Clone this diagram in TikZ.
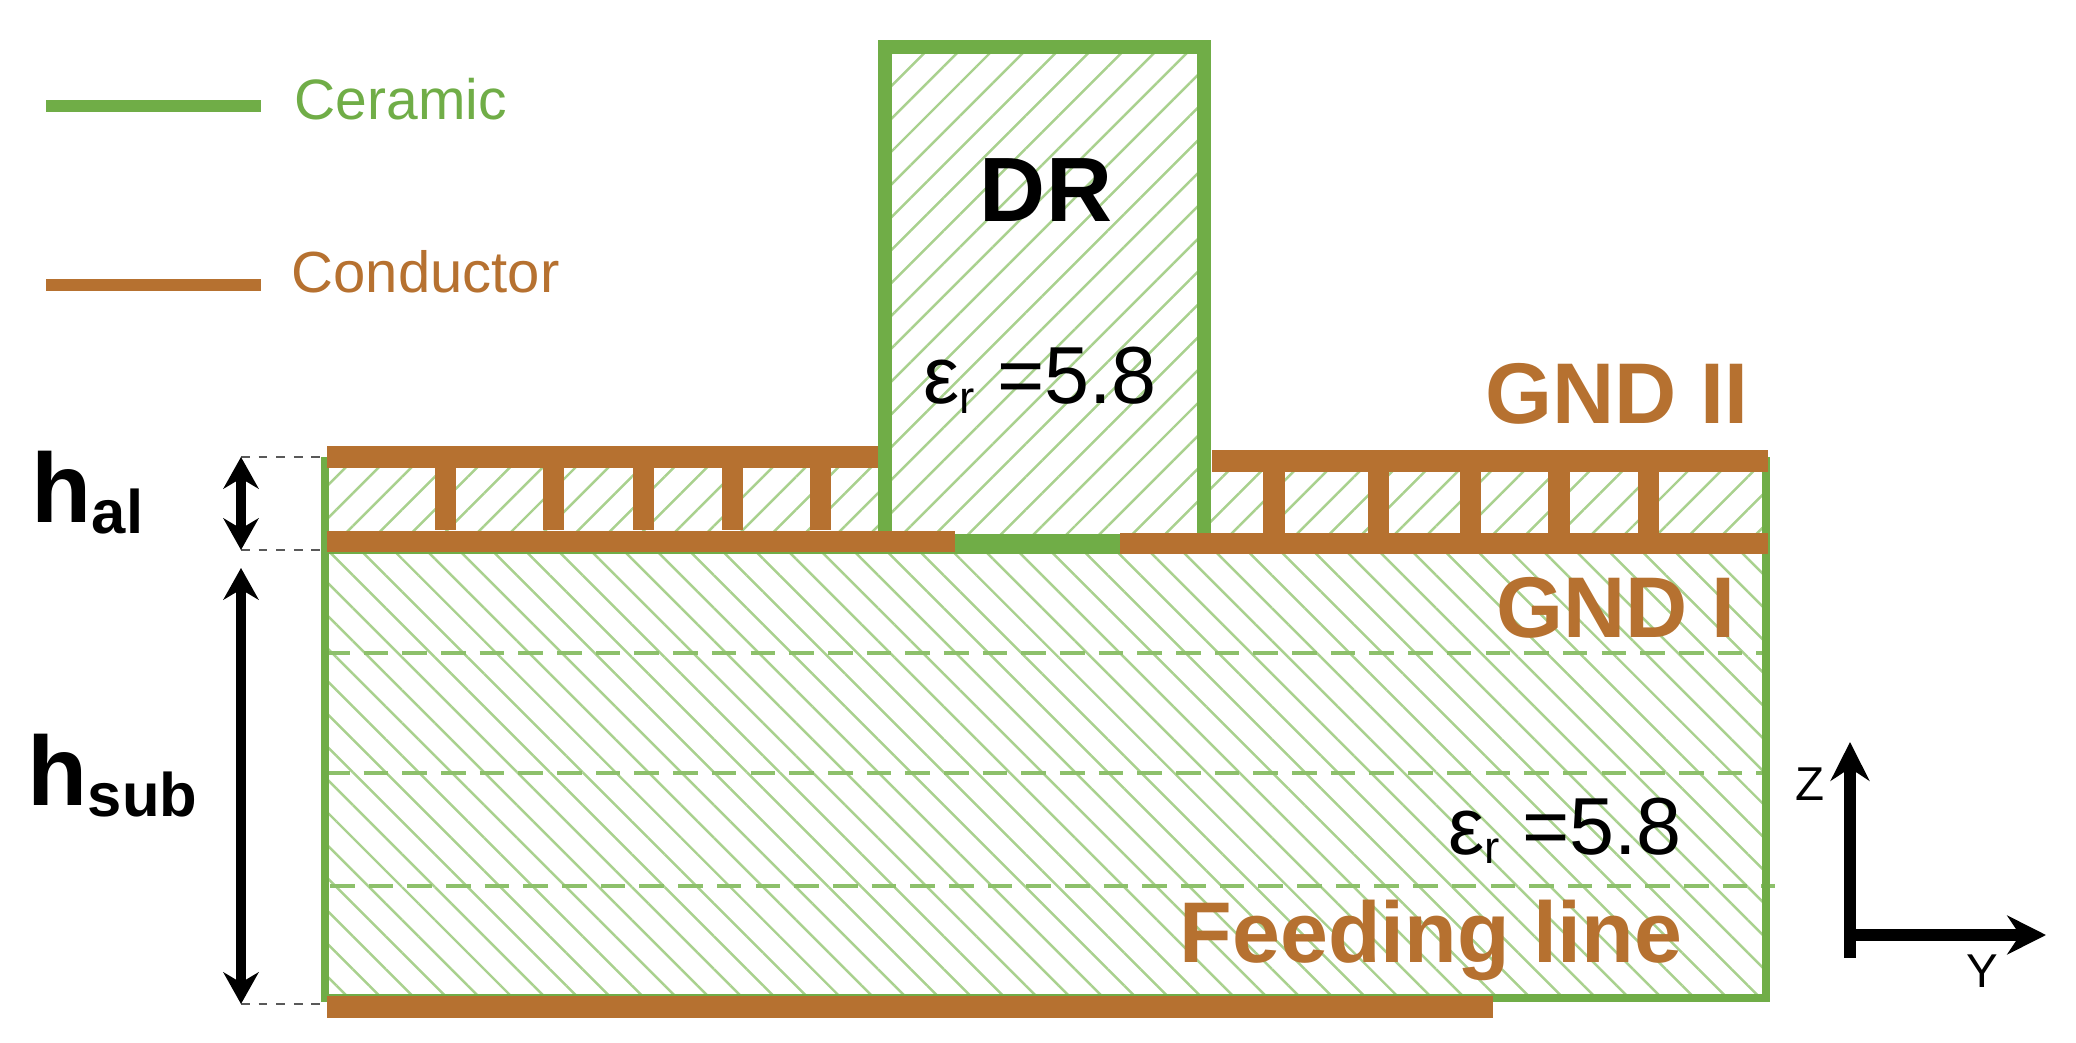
\documentclass[tikz,border=0pt]{standalone}
\usepackage{fontspec}
\usepackage{tikz}
\usetikzlibrary{patterns.meta,arrows.meta}
\setmainfont{Liberation Sans}

\definecolor{ceramic}{HTML}{70AD47}
\definecolor{copper}{HTML}{B67130}
\definecolor{hatch}{HTML}{A9D18E}
\definecolor{layerdash}{HTML}{8DC06B}

\newcommand{\lowtext}[1]{\raisebox{-3.4pt}{\fontsize{17.5}{20}\selectfont\textbf{#1}}}
\newcommand{\epsr}{ε\raisebox{-2.6pt}{\fontsize{13}{15}\selectfont r} =5.8}

\tikzset{
	hatchup/.style={pattern={Lines[angle=45,distance=6.6pt,line width=0.7pt]},pattern color=hatch},
	hatchdown/.style={pattern={Lines[angle=-45,distance=6.6pt,line width=0.7pt]},pattern color=hatch},
	wall/.style={draw=ceramic,line width=2.6pt},
	thinwall/.style={draw=ceramic,line width=2.4pt},
	plate/.style={draw=copper,line width=6pt},
	post/.style={draw=copper,line width=6pt},
	layerline/.style={draw=layerdash,line width=0.9pt,dash pattern=on 7pt off 4pt},
	guide/.style={draw=black!65,line width=0.8pt,dash pattern=on 2.5pt off 2.5pt},
	dimarrow/.style={draw=black,line width=2.8pt,{Stealth[length=9pt,width=10pt]}-{Stealth[length=9pt,width=10pt]}},
	axisline/.style={draw=black,line width=3.6pt,-{Stealth[length=11pt,width=11pt]}},
	dimtext/.style={inner sep=0pt,anchor=base west,font=\fontsize{28}{32}\selectfont\bfseries},
	metaltext/.style={inner sep=0pt,anchor=base,text=copper,font=\fontsize{24.5}{28}\selectfont\bfseries},
	epstext/.style={inner sep=0pt,anchor=base,font=\fontsize{23}{26}\selectfont},
	axistext/.style={inner sep=0pt,anchor=base,font=\fontsize{13.5}{15}\selectfont},
}

\begin{document}
\begin{tikzpicture}[x=0.01cm,y=-0.01cm]
	\useasboundingbox (0,0) rectangle (2076,1043);

	% Hatching starts here
	\fill[hatchdown] (325,553) rectangle (1766,998);
	\fill[hatchup] (325,467) rectangle (885,530);
	\fill[hatchup] (885,47) rectangle (1204,533);
	\fill[hatchup] (1204,471) rectangle (1766,533);

	% Layer lines start here
	\draw[layerline] (325,653) -- (1766,653);
	\draw[layerline] (325,773) -- (1766,773);
	\draw[layerline] (330,886) -- (1775,886);

	% Ceramic starts here
	\draw[thinwall] (325,457) -- (325,998) -- (1766,998) -- (1766,457);
	\draw[thinwall,line width=1.4pt] (325,552) -- (1766,552);
	\draw[wall,line width=4pt] (885,533) -- (885,47) -- (1204,47) -- (1204,533);
	\draw[wall,line width=5.6pt] (955,543.5) -- (1120,543.5);

	% Conductor starts here
	\draw[plate] (327,457) -- (878,457);
	\draw[plate] (327,541.5) -- (955,541.5);
	\draw[plate] (1212,461) -- (1768,461);
	\draw[plate] (1120,543.5) -- (1768,543.5);
	\draw[plate] (327,1007) -- (1493,1007);
	\draw[post] (445.5,467) -- (445.5,530);
	\draw[post] (553.5,467) -- (553.5,530);
	\draw[post] (643.5,467) -- (643.5,530);
	\draw[post] (732.5,467) -- (732.5,530);
	\draw[post] (820.5,467) -- (820.5,530);
	\draw[post] (1274,471) -- (1274,533);
	\draw[post] (1378.5,471) -- (1378.5,533);
	\draw[post] (1470.5,471) -- (1470.5,533);
	\draw[post] (1559,471) -- (1559,533);
	\draw[post] (1648.5,471) -- (1648.5,533);

	% Legend starts here
	\coordinate (ceramic a) at (46,106);
	\coordinate (ceramic b) at (261,106);
	\coordinate (conductor a) at (46,285);
	\coordinate (conductor b) at (261,285);
	\draw[wall,line width=3.4pt] (ceramic a) -- (ceramic b);
	\draw[plate,line width=3.4pt] (conductor a) -- (conductor b);
	\node (ceramictext) at (294,120) [inner sep=0pt,anchor=base west,text=ceramic,font=\fontsize{16.2}{18}\selectfont] {Ceramic};
	\node (conductortext) at (291,293) [inner sep=0pt,anchor=base west,text=copper,font=\fontsize{16.5}{18}\selectfont] {Conductor};

	% Nodes start here
	\node (dr) at (1046,222) [inner sep=0pt,anchor=base,font=\fontsize{26}{30}\selectfont\bfseries] {DR};
	\node (epsdr) at (1040,404) [epstext] {\epsr};
	\node (epssub) at (1565,854) [epstext] {\epsr};
	\node (gndtwo) at (1617,424) [metaltext] {GND II};
	\node (gndone) at (1616,637) [metaltext] {GND I};
	\node (feed) at (1431,962) [metaltext] {Feeding line};
	\node (hal) at (31,522) [dimtext] {h\lowtext{al}};
	\node (hsub) at (27,805) [dimtext] {h\lowtext{sub}};
	\node (zlabel) at (1810,800) [axistext] {Z};
	\node (ylabel) at (1982,987) [axistext] {Y};

	% Lines start here
	\coordinate (hal top) at (241,457);
	\coordinate (hal low) at (241,550);
	\coordinate (hsub top) at (241,568);
	\coordinate (hsub low) at (241,1004);
	\coordinate (plate top) at (320,457);
	\coordinate (plate low) at (320,550);
	\coordinate (plate end) at (320,1004);
	\coordinate (axis o) at (1850,935);
	\coordinate (axis z) at (1850,742);
	\coordinate (axis y) at (2046,935);
	\draw[guide] (hal top) -- (plate top);
	\draw[guide] (hal low) -- (plate low);
	\draw[guide] (hsub low) -- (plate end);
	\draw[dimarrow] (hal top) -- (hal low);
	\draw[dimarrow] (hsub top) -- (hsub low);
	\draw[axisline] ([yshift=-6.5pt]axis o) -- (axis z);
	\draw[axisline] (axis o) -- (axis y);

\end{tikzpicture}
\end{document}
